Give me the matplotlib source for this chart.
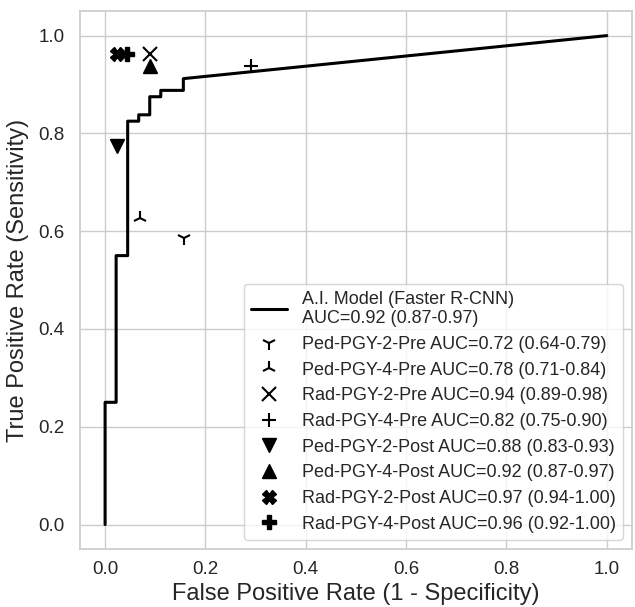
import matplotlib
matplotlib.use("Agg")
import matplotlib.pyplot as plt
import seaborn as sns

sns.set_theme(style="whitegrid")
plt.rcParams['font.family'] = ['Liberation Sans', 'DejaVu Sans']

# ROC curve of the AI model
roc_fpr = [0.0, 0.0, 0.022, 0.022, 0.045, 0.045, 0.067, 0.067, 0.089, 0.089, 0.111, 0.111, 0.156, 0.156, 1.0]
roc_tpr = [0.0, 0.25, 0.25, 0.55, 0.55, 0.825, 0.825, 0.838, 0.838, 0.875, 0.875, 0.888, 0.888, 0.912, 1.0]
model_label = "A.I. Model (Faster R-CNN)\nAUC=0.92 (0.87-0.97)"

# Reader operating points
reader_labels = [
    "Ped-PGY-2-Pre AUC=0.72 (0.64-0.79)",
    "Ped-PGY-4-Pre AUC=0.78 (0.71-0.84)",
    "Rad-PGY-2-Pre AUC=0.94 (0.89-0.98)",
    "Rad-PGY-4-Pre AUC=0.82 (0.75-0.90)",
    "Ped-PGY-2-Post AUC=0.88 (0.83-0.93)",
    "Ped-PGY-4-Post AUC=0.92 (0.87-0.97)",
    "Rad-PGY-2-Post AUC=0.97 (0.94-1.00)",
    "Rad-PGY-4-Post AUC=0.96 (0.92-1.00)",
]
reader_fpr = [0.157, 0.069, 0.090, 0.290, 0.023, 0.090, 0.023, 0.043]
reader_tpr = [0.586, 0.626, 0.962, 0.937, 0.775, 0.938, 0.962, 0.962]
reader_markers = ["1", "2", "x", "+", "v", "^", "X", "P"]

fig = plt.figure(figsize=(6.35, 6.07), dpi=100)
ax = fig.add_axes([0.126, 0.0956, 0.869, 0.886])

ax.plot(roc_fpr, roc_tpr, color="black", lw=2.2, label=model_label)
for lab, x, y, m in zip(reader_labels, reader_fpr, reader_tpr, reader_markers):
    ax.plot([x], [y], linestyle="none", marker=m, color="black", markersize=10,
            markeredgewidth=1.5 if m in ("1", "2", "x", "+") else 1.0, label=lab)

ax.set_xlim(-0.05, 1.05)
ax.set_ylim(-0.05, 1.05)
ax.set_xticks([0.0, 0.2, 0.4, 0.6, 0.8, 1.0])
ax.set_yticks([0.0, 0.2, 0.4, 0.6, 0.8, 1.0])
ax.tick_params(labelsize=13.5, colors="#262626")
ax.tick_params(axis="x", pad=3)
ax.tick_params(axis="y", pad=5.3)
ax.set_xlabel("False Positive Rate (1 - Specificity)", fontsize=17, color="#262626", labelpad=3)
ax.set_ylabel("True Positive Rate (Sensitivity)", fontsize=17, color="#262626", labelpad=6.7)

leg = ax.legend(loc="lower right", fontsize=13, handlelength=2.0, labelspacing=0.48,
                borderaxespad=0.5)

fig.savefig("out.png", dpi=100)
